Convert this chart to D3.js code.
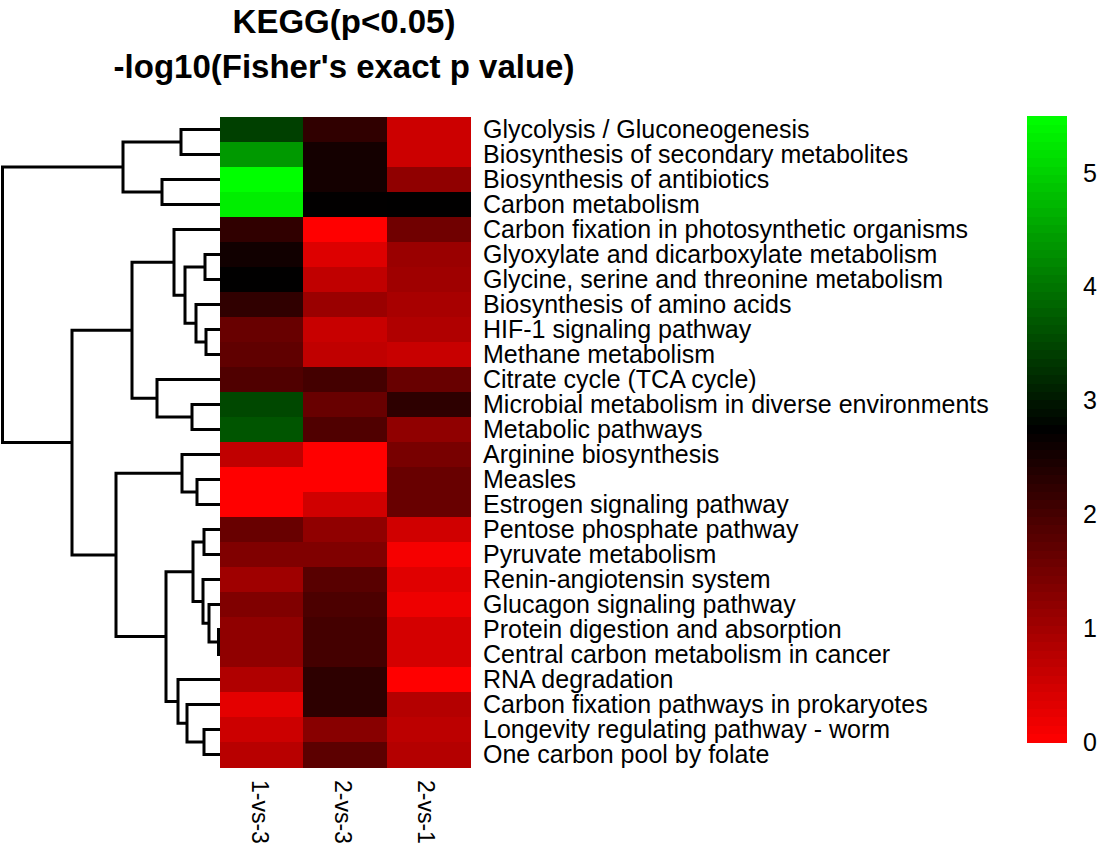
<!DOCTYPE html>
<html>
<head>
<meta charset="utf-8">
<script src="https://cdn.jsdelivr.net/npm/d3@7"></script>
<style>
  html, body { margin: 0; padding: 0; background: #fff; }
  svg { display: block; }
  text { font-family: "Liberation Sans", Arial, Helvetica, sans-serif; fill: #000; }
</style>
</head>
<body>
<svg id="chart" width="1103" height="848"></svg>
<script>
// ---------------- DATA ----------------
const titleLines = ["KEGG(p<0.05)", "-log10(Fisher's exact p value)"];

const pathways = [
  "Glycolysis / Gluconeogenesis",
  "Biosynthesis of secondary metabolites",
  "Biosynthesis of antibiotics",
  "Carbon metabolism",
  "Carbon fixation in photosynthetic organisms",
  "Glyoxylate and dicarboxylate metabolism",
  "Glycine, serine and threonine metabolism",
  "Biosynthesis of amino acids",
  "HIF-1 signaling pathway",
  "Methane metabolism",
  "Citrate cycle (TCA cycle)",
  "Microbial metabolism in diverse environments",
  "Metabolic pathways",
  "Arginine biosynthesis",
  "Measles",
  "Estrogen signaling pathway",
  "Pentose phosphate pathway",
  "Pyruvate metabolism",
  "Renin-angiotensin system",
  "Glucagon signaling pathway",
  "Protein digestion and absorption",
  "Central carbon metabolism in cancer",
  "RNA degradation",
  "Carbon fixation pathways in prokaryotes",
  "Longevity regulating pathway - worm",
  "One carbon pool by folate"
];

const comparisons = ["1-vs-3", "2-vs-3", "2-vs-1"];

// -log10(p) per comparison, in row order above
const vals_1vs3 = [3.44, 4.40, 5.50, 5.32, 2.23, 2.57, 2.74, 2.23, 1.63, 1.71, 1.89, 3.53, 3.67,
                   0.68, 0.00, 0.00, 1.63, 1.37, 1.03, 1.37, 1.20, 1.20, 0.85, 0.29, 0.55, 0.77];
const vals_2vs3 = [2.23, 2.53, 2.53, 2.73, 0.00, 0.37, 0.68, 1.09, 0.59, 0.68, 2.02, 1.63, 1.89,
                   0.00, 0.00, 0.51, 1.20, 1.37, 1.80, 1.93, 2.02, 2.02, 2.27, 2.27, 1.28, 1.76];
const vals_2vs1 = [0.55, 0.55, 1.20, 2.74, 1.54, 1.09, 1.03, 0.94, 0.85, 0.59, 1.63, 2.27, 1.20,
                   1.46, 1.63, 1.63, 0.51, 0.10, 0.33, 0.18, 0.46, 0.46, 0.00, 0.81, 0.72, 0.81];

const colorMin = 0, colorMax = 5.5;
const colorTicks = [0, 1, 2, 3, 4, 5];

// Row dendrogram merges: [left, right, height]; "rN" = row N, "mN" = merge N
const rowMerges = [
  ["r0", "r1", 39],      // m0
  ["r2", "r3", 58],      // m1
  ["m0", "m1", 97],      // m2
  ["r5", "r6", 15],      // m3
  ["r8", "r9", 14],      // m4
  ["r7", "m4", 24],      // m5
  ["m3", "m5", 35],      // m6
  ["r4", "m6", 46],      // m7
  ["r11", "r12", 28],    // m8
  ["r10", "m8", 63],     // m9
  ["m7", "m9", 88],      // m10
  ["r14", "r15", 23],    // m11
  ["r13", "m11", 38],    // m12
  ["r16", "r17", 16],    // m13
  ["r20", "r21", 1.5],   // m14
  ["r19", "m14", 11],    // m15
  ["r18", "m15", 17],    // m16
  ["m13", "m16", 27],    // m17
  ["r24", "r25", 16],    // m18
  ["r23", "m18", 33],    // m19
  ["r22", "m19", 42],    // m20
  ["m17", "m20", 54],    // m21
  ["m12", "m21", 104],   // m22
  ["m10", "m22", 148],   // m23
  ["m2", "m23", 217.5]   // m24
];

// ---------------- CHART ----------------
const svg = d3.select("#chart");
const series = [vals_1vs3, vals_2vs3, vals_2vs1];

const x = d3.scaleBand().domain(comparisons).range([220, 470]);
const y = d3.scaleBand().domain(pathways).range([117, 767]);

const color = d3.scaleLinear()
  .domain([colorMin, (colorMin + colorMax) / 2, colorMax])
  .range(["#ff0000", "#000000", "#00ff00"])
  .clamp(true);

// Heatmap cells
const cells = [];
comparisons.forEach((c, j) => {
  pathways.forEach((p, i) => cells.push({ c, p, v: series[j][i] }));
});
svg.append("g").selectAll("rect").data(cells).join("rect")
  .attr("x", d => x(d.c))
  .attr("y", d => y(d.p))
  .attr("width", x.bandwidth() + 0.5)
  .attr("height", y.bandwidth() + 0.5)
  .attr("fill", d => color(d.v))
  .attr("shape-rendering", "crispEdges");

// Row labels
svg.append("g").selectAll("text").data(pathways).join("text")
  .attr("x", 483)
  .attr("y", d => y(d) + y.bandwidth() / 2)
  .attr("dy", "0.35em")
  .attr("font-size", 25)
  .text(d => d);

// Column labels (rotated)
svg.append("g").selectAll("text").data(comparisons).join("text")
  .attr("transform", d => `translate(${x(d) + x.bandwidth() / 2 - 2},780) rotate(90)`)
  .attr("dy", "0.35em")
  .attr("font-size", 23)
  .text(d => d);

// Title
svg.append("g").selectAll("text").data(titleLines).join("text")
  .attr("x", 344)
  .attr("y", (d, i) => 33 + i * 45)
  .attr("text-anchor", "middle")
  .attr("font-size", 33)
  .attr("font-weight", "bold")
  .text(d => d);

// Row dendrogram
const hx = d3.scaleLinear().domain([0, 217.5]).range([220, 2.5]);
const nodes = {};
pathways.forEach((p, i) => { nodes["r" + i] = { y: y(p) + y.bandwidth() / 2, h: 0 }; });
const dg = svg.append("g").attr("fill", "none").attr("stroke", "#000").attr("stroke-width", 3);
rowMerges.forEach((m, k) => {
  const a = nodes[m[0]], b = nodes[m[1]], h = m[2];
  const xm = hx(h);
  dg.append("path")
    .attr("d", `M${hx(a.h)},${a.y}H${xm}V${b.y}H${hx(b.h)}`);
  nodes["m" + k] = { y: (a.y + b.y) / 2, h };
});

// Color key
const cy = d3.scaleLinear().domain([colorMin, colorMax]).range([742, 116]);
const nBins = 75;
const step = (colorMax - colorMin) / nBins;
const bins = d3.range(nBins).map(i => colorMin + i * step);
svg.append("g").selectAll("rect").data(bins).join("rect")
  .attr("x", 1027)
  .attr("width", 40)
  .attr("y", d => cy(d + step))
  .attr("height", d => cy(d) - cy(d + step) + 0.5)
  .attr("fill", d => color(d + step / 2))
  .attr("shape-rendering", "crispEdges");

svg.append("g").selectAll("text").data(colorTicks).join("text")
  .attr("x", 1083)
  .attr("y", d => cy(d))
  .attr("dy", "0.35em")
  .attr("font-size", 25)
  .text(d => d);
</script>
</body>
</html>
